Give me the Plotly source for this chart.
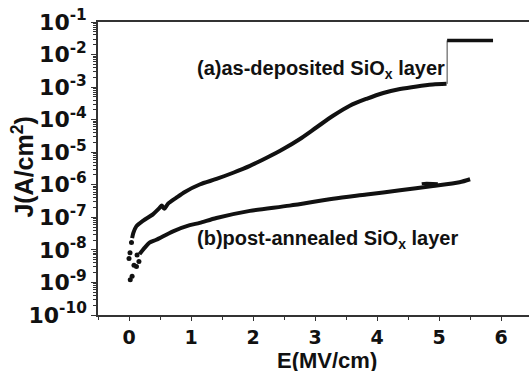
import plotly.graph_objects as go

# ---- data ----
# (a) as-deposited: scattered start points
Ea_pts = [0.00, 0.016, 0.04]
Ja_pts = [5.4e-9, 8.1e-9, 1.7e-8]
# (a) main curve
Ea = [0.05, 0.07, 0.12, 0.23, 0.39, 0.49, 0.53, 0.57, 0.63, 0.76, 0.90, 1.14, 1.41,
      1.68, 1.95, 2.22, 2.48, 2.75, 3.02, 3.29, 3.56, 3.83, 4.10, 4.37, 4.64, 4.90, 5.12]
Ja = [2.29e-8, 3.31e-8, 5.37e-8, 7.94e-8, 1.26e-7, 1.91e-7, 2.29e-7, 1.82e-7, 2.63e-7,
      3.98e-7, 6.03e-7, 1.02e-6, 1.51e-6, 2.34e-6, 3.80e-6, 6.76e-6, 1.23e-5, 2.51e-5,
      5.75e-5, 1.32e-4, 2.69e-4, 4.37e-4, 6.61e-4, 8.71e-4, 1.05e-3, 1.20e-3, 1.26e-3]
# (a) breakdown jump and compliance plateau
Ea_jump = [5.13, 5.13]
Ja_jump = [1.26e-3, 2.72e-2]
Ea_top = [5.13, 5.87]
Ja_top = [2.72e-2, 2.72e-2]

# (b) post-annealed: scattered start points
Eb_pts = [0.02, 0.05, 0.08, 0.12, 0.16, 0.13]
Jb_pts = [1.2e-9, 1.55e-9, 3.4e-9, 3.1e-9, 4.4e-9, 7.0e-9]
# (b) main curve
Eb = [0.17, 0.25, 0.33, 0.44, 0.71, 0.98, 1.14, 1.41, 1.95, 2.59, 3.29, 3.83, 4.37,
      4.90, 5.33, 5.50]
Jb = [7.41e-9, 1.15e-8, 1.66e-8, 2.04e-8, 3.72e-8, 5.75e-8, 6.76e-8, 9.55e-8, 1.58e-7,
      2.29e-7, 3.72e-7, 5.01e-7, 6.76e-7, 9.12e-7, 1.20e-6, 1.48e-6]
# (b) noisy cluster near 5 MV/cm
Eb_blob = [4.72, 4.80, 4.90, 4.98]
Jb_blob = [1.07e-6, 1.12e-6, 1.10e-6, 1.08e-6]

y_exps = list(range(-10, 0))
y_tickvals = [10.0 ** e for e in y_exps]
y_ticktext = ["10<sup>%d</sup>" % e for e in y_exps]
x_tickvals = [0, 1, 2, 3, 4, 5, 6]
x_ticktext = ["0", "1", "2", "3", "4", "5", "6"]

FONT = "Liberation Sans, Arial, sans-serif"
TICKFONT = "DejaVu Sans, Liberation Sans, sans-serif"
INK = "#111111"

fig = go.Figure()
fig.add_trace(go.Scatter(x=Ea, y=Ja, mode="lines",
                         line=dict(color=INK, width=4, shape="spline", smoothing=0.8),
                         showlegend=False))
fig.add_trace(go.Scatter(x=Ea_pts, y=Ja_pts, mode="markers",
                         marker=dict(color=INK, size=5), showlegend=False))
fig.add_trace(go.Scatter(x=Ea_jump, y=Ja_jump, mode="lines",
                         line=dict(color="#444444", width=1), showlegend=False))
fig.add_trace(go.Scatter(x=Ea_top, y=Ja_top, mode="lines",
                         line=dict(color=INK, width=3.5), showlegend=False))
fig.add_trace(go.Scatter(x=Eb, y=Jb, mode="lines",
                         line=dict(color=INK, width=4, shape="spline", smoothing=0.8),
                         showlegend=False))
fig.add_trace(go.Scatter(x=Eb_pts, y=Jb_pts, mode="markers",
                         marker=dict(color=INK, size=5), showlegend=False))
fig.add_trace(go.Scatter(x=Eb_blob, y=Jb_blob, mode="lines",
                         line=dict(color=INK, width=3), showlegend=False))

minor_y = [k * 10.0 ** e for e in range(-10, -1) for k in range(2, 10)]

fig.update_layout(
    width=529, height=373,
    margin=dict(l=98, r=0, t=22, b=58),
    paper_bgcolor="white", plot_bgcolor="white",
    font=dict(family=FONT, color=INK),
    xaxis=dict(range=[-0.5, 6.45], showgrid=False, zeroline=False,
               showline=True, linecolor="#333333", linewidth=1.5, mirror=True,
               ticks="outside", ticklen=4, tickwidth=1, tickcolor="#333333",
               tickvals=x_tickvals, ticktext=x_ticktext,
               tickfont=dict(size=19, family=TICKFONT, weight="bold", color=INK),
               ticklabelstandoff=0,
               minor=dict(ticks="outside", ticklen=3, tickwidth=1, tickcolor="#333333",
                          tickvals=[-0.5, 0.5, 1.5, 2.5, 3.5, 4.5, 5.5], showgrid=False)),
    yaxis=dict(type="log", range=[-10, -1], showgrid=False, zeroline=False,
               showline=True, linecolor="#333333", linewidth=1.5, mirror=False,
               ticks="outside", ticklen=5, tickwidth=1, tickcolor="#333333",
               tickvals=y_tickvals, ticktext=y_ticktext,
               tickfont=dict(size=22, family=TICKFONT, weight="bold", color=INK),
               minor=dict(ticks="outside", ticklen=3, tickwidth=1, tickcolor="#333333",
                          tickvals=minor_y, showgrid=False)),
)

fig.add_annotation(x=3.19, y=-0.1536, xref="x", yref="paper", showarrow=False,
                   text="E(MV/cm)", xanchor="center", yanchor="middle", borderpad=0,
                   height=22, valign="middle",
                   font=dict(size=22, family=FONT, weight="bold", color=INK))
fig.add_annotation(x=-0.175, y=0.505, xref="paper", yref="paper", showarrow=False,
                   text="J(A/cm<sup>2</sup>)", textangle=-90,
                   xanchor="center", yanchor="middle",
                   font=dict(size=25, family=FONT, weight="bold", color=INK))
fig.add_annotation(x=1.06, y=-2.45, xref="x", yref="y", showarrow=False,
                   text="(a)as-deposited SiO<sub>x</sub> layer",
                   xanchor="left", yanchor="middle",
                   font=dict(size=20, family=FONT, weight="bold", color=INK))
fig.add_annotation(x=1.06, y=-7.67, xref="x", yref="y", showarrow=False,
                   text="(b)post-annealed SiO<sub>x</sub> layer",
                   xanchor="left", yanchor="middle",
                   font=dict(size=20, family=FONT, weight="bold", color=INK))

fig.write_html("out.html")
